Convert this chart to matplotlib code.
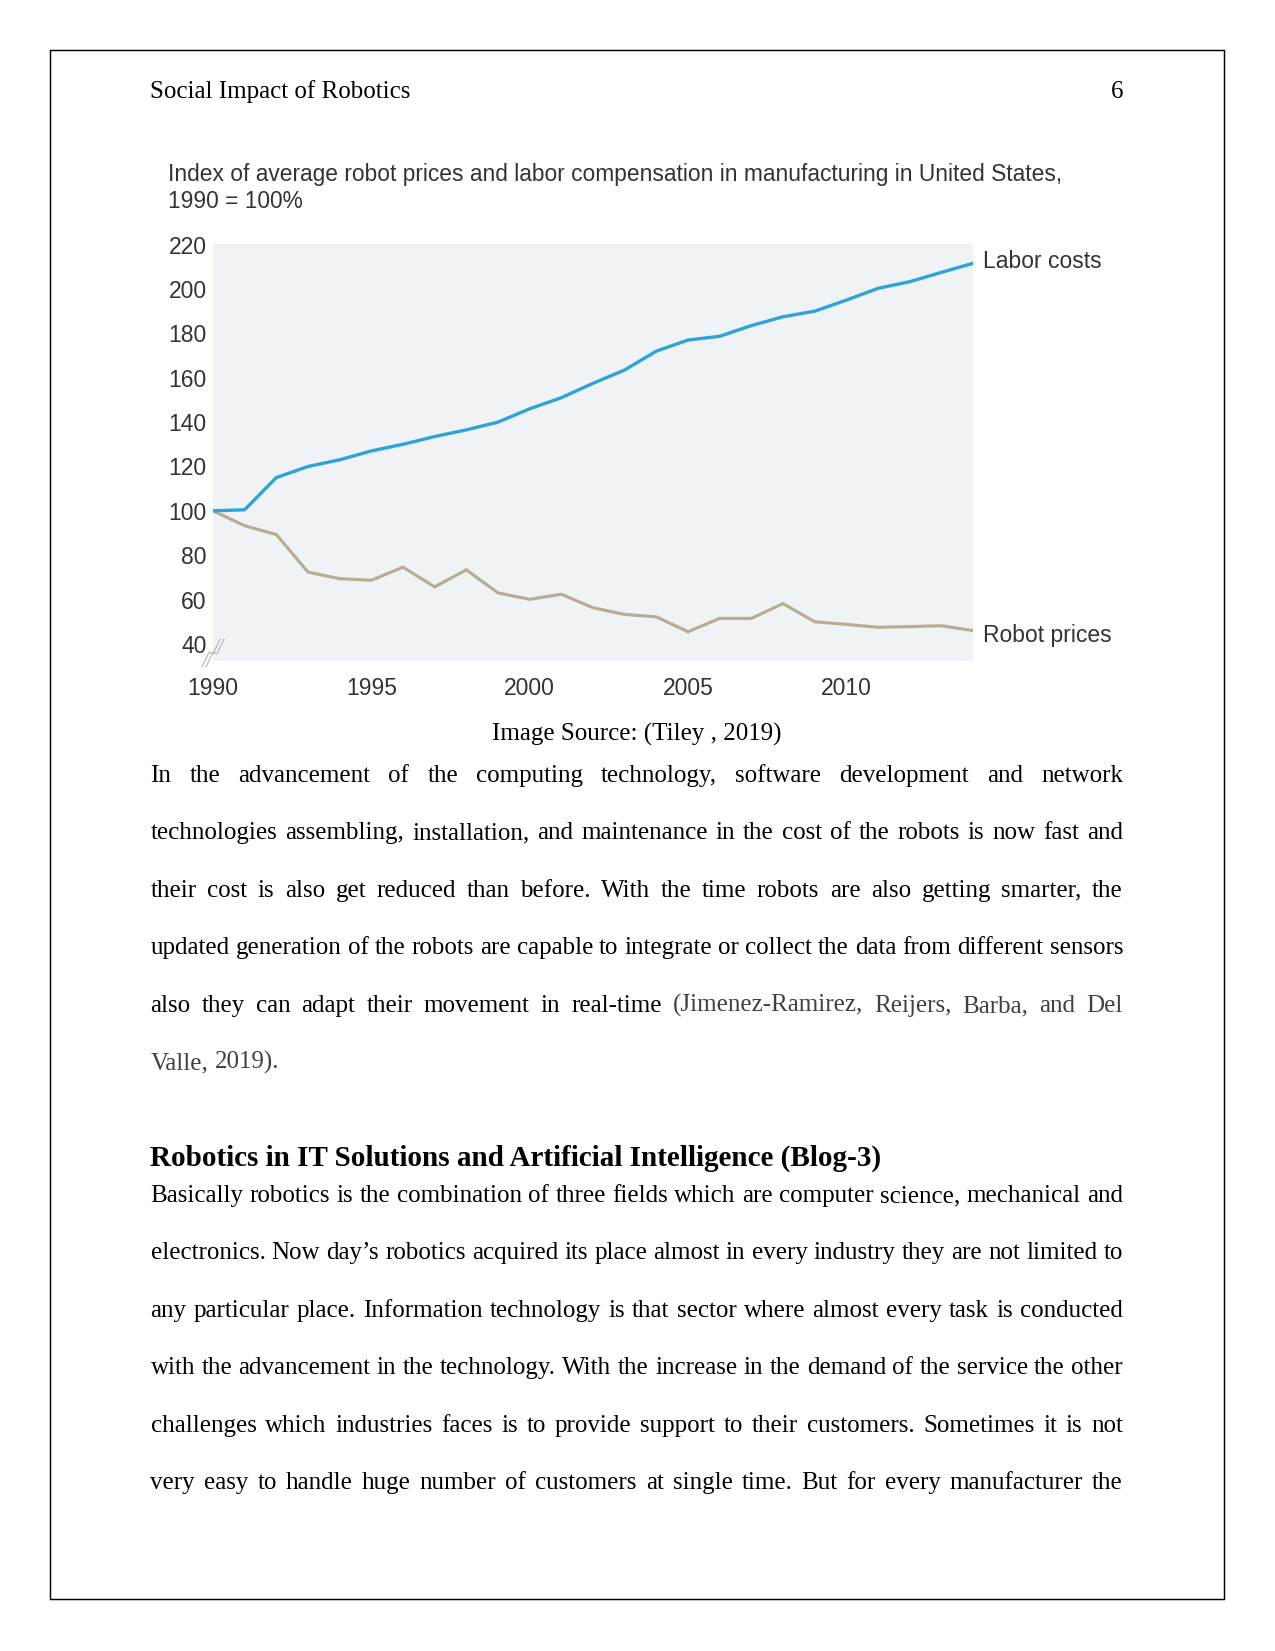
import matplotlib.pyplot as plt
from matplotlib.patches import Rectangle

# page is letter size at 150 dpi
W, H = 1275, 1651
DPI = 150

# chart data (index, 1990 = 100)
years = list(range(1990, 2015))
labor_costs = [100, 100.5, 115, 120, 123, 127, 130, 133.5, 136.5, 140, 146, 151, 157.5, 163.5,
               172, 177, 178.7, 183.5, 187.5, 190, 195, 200.3, 203.3, 207.5, 211.6]
robot_prices = [100, 93.3, 89.3, 72.4, 69.4, 68.7, 74.6, 65.7, 73.4, 63, 60.1, 62.4, 56.3, 53.3,
                52.2, 45.5, 51.5, 51.5, 58.2, 50, 48.8, 47.5, 47.8, 48.2, 46]
y_ticks = [40, 60, 80, 100, 120, 140, 160, 180, 200, 220]
x_ticks = [1990, 1995, 2000, 2005, 2010]
chart_title = ["Index of average robot prices and labor compensation in manufacturing in United States,",
               "1990 = 100%"]

para1 = [
    "In the advancement of the computing technology, software development and network",
    "technologies assembling, installation, and maintenance in the cost of the robots is now fast and",
    "their cost is also get reduced than before. With the time robots are also getting smarter, the",
    "updated generation of the robots are capable to integrate or collect the data from different sensors",
    "also they can adapt their movement in real-time (Jimenez-Ramirez, Reijers, Barba, and Del",
    "Valle, 2019).",
]
para2 = [
    "Basically robotics is the combination of three fields which are computer science, mechanical and",
    "electronics. Now day\u2019s robotics acquired its place almost in every industry they are not limited to",
    "any particular place. Information technology is that sector where almost every task is conducted",
    "with the advancement in the technology. With the increase in the demand of the service the other",
    "challenges which industries faces is to provide support to their customers. Sometimes it is not",
    "very easy to handle huge number of customers at single time. But for every manufacturer the",
]

BLUE = '#2ea3d8'
TAN = '#b8ad92'
GREY_TXT = '#333333'
SANS = 'Liberation Sans'
SERIF = 'Liberation Serif'

fig = plt.figure(figsize=(W / DPI, H / DPI), dpi=DPI)
fig.patch.set_facecolor('white')

# full page axes in pixel coordinates
page = fig.add_axes([0, 0, 1, 1])
page.set_xlim(0, W)
page.set_ylim(H, 0)
page.axis('off')

page.add_patch(Rectangle((50.3, 50.3), 1174, 1549, fill=False, lw=0.7, ec='black'))

LEFT, RIGHT = 150.5, 1123
page.text(LEFT, 98, "Social Impact of Robotics", family=SERIF, fontsize=12, va='baseline')
page.text(RIGHT, 98, "6", family=SERIF, fontsize=12, va='baseline', ha='right')


def px_axes(left, top, right, bottom):
    return fig.add_axes([left / W, 1 - bottom / H, (right - left) / W, (bottom - top) / H])


# chart
ax = px_axes(213, 244, 973, 661)
ax.set_facecolor('#eff3f5')
for s in ax.spines.values():
    s.set_visible(False)
ax.set_xlim(1990, 2014)
ax.set_ylim(32.3, 220.3)
ax.plot(years, robot_prices, color=TAN, lw=1.5, solid_joinstyle='miter')
ax.plot(years, labor_costs, color=BLUE, lw=1.6, solid_joinstyle='miter')
ax.set_yticks(y_ticks)
ax.set_xticks(x_ticks)
ax.set_yticklabels([str(v) for v in y_ticks], family=SANS, fontsize=11, color=GREY_TXT)
ax.set_xticklabels([str(v) for v in x_ticks], family=SANS, fontsize=11, color=GREY_TXT)
ax.tick_params(axis='y', length=0, pad=3)
ax.tick_params(axis='x', length=0, pad=7.5)

ax.annotate("Labor costs", (years[-1], labor_costs[-1]), xytext=(4.8, 1), textcoords='offset points',
            va='center', ha='left', family=SANS, fontsize=11, color=GREY_TXT, annotation_clip=False)
ax.annotate("Robot prices", (years[-1], robot_prices[-1]), xytext=(4.8, -2.5), textcoords='offset points',
            va='center', ha='left', family=SANS, fontsize=11, color=GREY_TXT, annotation_clip=False)

# axis break mark, drawn over the chart background
for dx in (0, 4):
    ax.plot([202 + dx, 209 + dx, 213 + dx, 220 + dx], [667, 652, 654, 639],
            color='#b9bec1', lw=0.6, transform=page.transData, clip_on=False)

for i, line in enumerate(chart_title):
    page.text(168, 175 + i * 26, line, family=SANS, fontsize=10.9, color=GREY_TXT, va='center')

page.text(637, 741, "Image Source: (Tiley , 2019)", family=SERIF, fontsize=12, ha='center', va='baseline')

renderer = fig.canvas.get_renderer()


def put_line(text, y, justify=True, grey_from=None, weight='normal'):
    words = text.split(' ')
    items = []
    for k, w in enumerate(words):
        col = 'black'
        if grey_from is not None and k >= grey_from:
            col = '#404040'
        items.append(page.text(0, y, w, family=SERIF, fontsize=12, va='baseline',
                               color=col, weight=weight))
    widths = [t.get_window_extent(renderer).width for t in items]
    if justify and len(items) > 1:
        gap = (RIGHT - LEFT - sum(widths)) / (len(items) - 1)
    else:
        gap = 6.25
    x = LEFT
    for t, w in zip(items, widths):
        t.set_x(x)
        x += w + gap


STEP = 57.4
y = 782
for i, line in enumerate(para1):
    grey = None
    if i == 4:
        grey = 8
    elif i == 5:
        grey = 0
    put_line(line, round(y), justify=(i < len(para1) - 1), grey_from=grey)
    y += STEP

page.text(LEFT, 1166, "Robotics in IT Solutions and Artificial Intelligence (Blog-3)",
          family=SERIF, fontsize=14, weight='bold', va='baseline')

y = 1202
for line in para2:
    put_line(line, round(y))
    y += STEP

fig.savefig("out.png", dpi=DPI)
